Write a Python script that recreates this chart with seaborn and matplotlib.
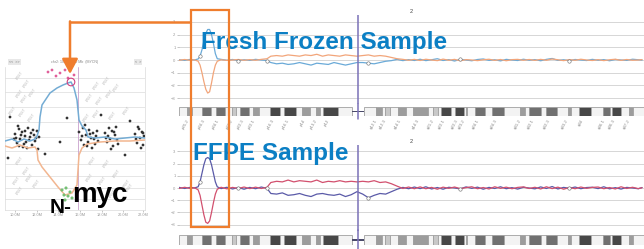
import numpy as np
import pandas as pd
import matplotlib
matplotlib.use("Agg")
import matplotlib.pyplot as plt
import seaborn as sns
from matplotlib import font_manager
from matplotlib.patches import Rectangle, FancyArrowPatch
from matplotlib.lines import Line2D

# --- genome profile data (chr2, Mb / log ratio) ---
pos_mb = [0, 3, 6, 8, 10, 11, 12, 13, 14, 15,
          16, 17, 18, 19, 20, 22, 25, 28, 31, 34,
          37, 40, 43, 46, 48, 51, 54, 57, 60, 63,
          66, 69, 72, 75, 78, 81, 84, 87, 90, 93,
          96, 99, 102, 105, 108, 111, 114, 117, 120, 123,
          126, 129, 132, 135, 138, 141, 144, 147, 150, 153,
          156, 159, 162, 165, 168, 171, 174, 177, 180, 183,
          186, 189, 192, 195, 198, 201, 204, 207, 210, 213,
          216, 219, 222, 225, 228, 231, 234, 237, 240, 242]

ff_blue = [0.02, -0.03, 0.05, 0.0, 0.08, 0.3, 0.8, 1.5, 2.1, 2.4,
           2.4, 2.0, 1.3, 0.5, 0.1, 0.05, -0.02, 0.04, -0.05, 0.02,
           -0.03, 0.05, 0.0, -0.04, -0.2, -0.3, -0.25, -0.35, -0.3, -0.2,
           -0.3, -0.4, -0.25, -0.3, -0.35, -0.2, -0.3, -0.4, -0.3, -0.2,
           -0.2, -0.25, -0.3, -0.2, -0.1, -0.05, 0.05, -0.05, 0.03, -0.04,
           0.06, -0.05, 0.02, 0.1, -0.04, 0.03, -0.08, 0.05, 0.0, -0.06,
           0.04, 0.08, -0.03, 0.02, -0.07, 0.05, 0.0, -0.04, 0.06, -0.02,
           0.03, -0.06, 0.05, 0.12, -0.03, 0.02, -0.05, 0.04, 0.0, -0.04,
           0.05, -0.02, 0.03, -0.06, 0.04, 0.0, -0.03, 0.06, 0.02, -0.01]

ff_orange = [-0.02, 0.04, -0.03, 0.02, -0.1, -0.4, -1.0, -1.7, -2.3, -2.6,
             -2.5, -1.8, -1.0, -0.4, -0.1, 0.02, -0.03, 0.0, 0.04, -0.02,
             0.03, -0.02, 0.05, 0.1, 0.3, 0.35, 0.3, 0.4, 0.35, 0.3,
             0.4, 0.35, 0.45, 0.3, 0.4, 0.35, 0.3, 0.4, 0.35, 0.3,
             0.35, 0.4, 0.3, 0.35, 0.3, 0.2, 0.1, 0.05, -0.02, 0.05,
             -0.04, 0.06, 0.0, -0.05, 0.07, -0.02, 0.05, -0.06, 0.03, 0.0,
             -0.05, 0.02, 0.06, -0.03, 0.04, -0.06, 0.03, 0.05, -0.02, 0.04,
             -0.03, 0.05, -0.02, 0.08, 0.02, -0.05, 0.03, -0.02, 0.06, 0.0,
             -0.04, 0.03, -0.05, 0.02, 0.06, -0.03, 0.04, -0.02, 0.0, 0.03]

ffpe_blue = [0.05, -0.04, 0.06, 0.0, 0.1, 0.5, 1.2, 1.9, 2.4, 2.5,
             2.4, 1.9, 1.2, 0.5, 0.1, -0.05, 0.06, -0.08, 0.04, -0.1,
             0.05, -0.06, 0.08, -0.03, -0.45, -0.5, -0.4, -0.6, -0.55, -0.45,
             -0.6, -0.7, -0.5, -0.45, -0.55, -0.6, -0.5, -0.7, -0.55, -0.3,
             -0.5, -0.8, -0.6, -0.45, -0.5, -0.3, -0.1, 0.05, -0.06, 0.08,
             -0.05, 0.1, -0.08, 0.04, -0.1, 0.06, 0.0, -0.07, 0.09, -0.03,
             0.07, -0.1, 0.05, -0.04, 0.1, -0.06, 0.03, -0.09, 0.06, 0.0,
             -0.07, 0.09, -0.04, 0.12, -0.08, 0.05, -0.03, 0.08, -0.06, 0.04,
             0.06, -0.05, 0.1, -0.07, 0.03, -0.09, 0.05, 0.0, -0.06, 0.04]

ffpe_red = [-0.04, 0.06, -0.05, 0.03, -0.15, -0.6, -1.4, -2.2, -2.8, -2.9,
            -2.7, -2.0, -1.2, -0.5, -0.1, 0.06, -0.07, 0.05, -0.04, 0.08,
            -0.05, 0.07, -0.04, 0.06, 0.45, 0.55, 0.5, 0.65, 0.5, 0.6,
            0.55, 0.5, 0.65, 0.45, 0.55, 0.5, 0.6, 0.5, 0.55, 0.5,
            0.55, 0.5, 0.6, 0.45, 0.5, 0.35, 0.15, -0.04, 0.08, -0.06,
            0.09, -0.06, 0.05, -0.1, 0.07, -0.03, 0.08, -0.05, 0.03, 0.1,
            -0.06, 0.04, -0.08, 0.1, -0.03, 0.07, -0.06, 0.05, 0.09, -0.04,
            0.06, -0.08, 0.1, -0.05, 0.07, -0.1, 0.04, -0.06, 0.08, -0.03,
            0.05, 0.08, -0.06, 0.04, -0.08, 0.1, -0.04, 0.06, -0.05, 0.02]

marker_idx = [5, 18, 23, 41, 57, 76]

# --- chr2 ideogram bands ---
band_name = ['p25.3', 'p25.2', 'p25.1', 'p24.3', 'p24.2', 'p24.1', 'p23.3', 'p23.2', 'p23.1', 'p22.3',
             'p22.2', 'p22.1', 'p21', 'p16.3', 'p16.2', 'p16.1', 'p15', 'p14', 'p13.3', 'p13.2',
             'p13.1', 'p12', 'p11.2', 'p11.1', 'q11.1', 'q11.2', 'q12.1', 'q12.2', 'q12.3', 'q13',
             'q14.1', 'q14.2', 'q14.3', 'q21.1', 'q21.2', 'q21.3', 'q22.1', 'q22.2', 'q22.3', 'q23.1',
             'q23.2', 'q23.3', 'q24.1', 'q24.2', 'q24.3', 'q31.1', 'q31.2', 'q31.3', 'q32.1', 'q32.2',
             'q32.3', 'q33.1', 'q33.2', 'q33.3', 'q34', 'q35', 'q36.1', 'q36.2', 'q36.3', 'q37.1',
             'q37.2', 'q37.3']
band_end = [4.4, 7.0, 12.2, 16.7, 19.2, 24.0, 27.9, 30.0, 32.1, 36.6,
            38.6, 41.8, 47.8, 52.9, 55.0, 61.3, 64.1, 68.6, 71.5, 73.5,
            75.0, 83.3, 90.5, 93.3, 96.8, 102.7, 106.0, 107.5, 110.2, 114.4,
            118.8, 122.4, 129.9, 132.5, 135.1, 136.8, 142.2, 144.1, 148.7, 149.9,
            150.5, 154.9, 159.8, 163.7, 169.7, 178.0, 180.6, 183.0, 189.4, 191.9,
            197.4, 203.3, 204.9, 209.0, 215.3, 221.5, 225.2, 226.1, 231.0, 235.1,
            237.3, 243.2]
band_stain = ['gneg', 'gpos50', 'gneg', 'gpos75', 'gneg', 'gpos75', 'gneg', 'gpos25', 'gneg', 'gpos75',
              'gneg', 'gpos50', 'gneg', 'gpos100', 'gneg', 'gpos100', 'gneg', 'gpos50', 'gneg', 'gpos50',
              'gneg', 'gpos100', 'gneg', 'acen', 'acen', 'gneg', 'gpos50', 'gneg', 'gpos25', 'gneg',
              'gpos50', 'gneg', 'gpos50', 'gneg', 'gpos25', 'gneg', 'gpos100', 'gneg', 'gpos100', 'gneg',
              'gpos25', 'gneg', 'gpos75', 'gneg', 'gpos75', 'gneg', 'gpos50', 'gneg', 'gpos75', 'gneg',
              'gpos75', 'gneg', 'gpos50', 'gneg', 'gpos100', 'gneg', 'gpos75', 'gneg', 'gpos100', 'gneg',
              'gpos50', 'gneg']
centromere_mb = 93.3

# --- left zoom panel data ---
blue_x = [0.0, 0.7, 1.3, 1.9, 2.5, 3.0, 3.2, 3.4, 3.5, 3.7,
          4.5, 5.2, 5.8, 6.3, 6.6, 6.9, 7.2, 7.3, 7.4, 7.7,
          8.1, 8.3, 9.0, 10.0, 11.0, 12.0, 13.0, 14.0]
blue_y = [-0.4, -0.2, -0.5, -0.2, -0.4, -0.2, 0.1, 0.7, 2.0, 3.2,
          4.4, 4.9, 5.2, 5.4, 5.5, 4.9, 3.7, 2.7, 1.7, 1.1,
          0.7, 0.0, -0.1, 0.0, -0.2, -0.1, 0.0, -0.1]
orange_x = [0.0, 0.7, 1.5, 2.3, 3.0, 3.2, 3.3, 3.7, 4.5, 5.3,
            6.0, 6.7, 7.2, 7.3, 7.4, 7.7, 8.2, 9.5, 11.0, 12.5, 14.0]
orange_y = [-0.9, -1.1, -0.8, -1.1, -1.0, -1.3, -2.3, -3.0, -4.0, -5.0,
            -5.8, -5.6, -4.8, -3.3, -1.8, -1.1, -0.7, -0.5, -0.4, -0.4, -0.3]

probe_x = [1.0, 1.2, 1.4, 1.5, 1.7, 1.8, 2.0, 2.1, 2.3, 2.4, 2.6, 2.7, 2.9, 3.0, 3.2, 3.3, 1.3, 2.2, 0.9, 3.4,
           1.1, 1.6, 1.9, 2.5, 2.8, 3.1, 1.4, 2.0,
           7.4, 7.6, 7.8, 7.9, 8.1, 8.3, 8.4, 8.6, 8.8, 9.0, 9.1, 9.3, 8.0, 8.7,
           7.7, 8.2, 8.5, 8.9, 9.2,
           10.0, 10.2, 10.4, 10.5, 10.7, 10.8, 11.0, 11.2, 10.3, 11.1, 10.6,
           10.1, 10.9, 11.3,
           13.0, 13.2, 13.4, 13.5, 13.7, 13.8, 13.9, 13.3, 13.6, 13.1, 13.8,
           0.5, 4.0, 6.2, 9.6, 12.0, 12.5, 0.3, 5.5]
probe_y = [0.3, -0.6, 0.8, -0.2, 0.5, -1.0, 0.1, -0.5, 0.9, -0.3, 0.4, -0.8, 0.2, -0.4, 0.6, -1.2, 1.1, -1.1, -0.2, 0.0,
           -0.1, 0.2, -0.7, 0.0, 0.7, -0.1, -0.9, 0.6,
           0.5, -0.3, 0.9, -0.8, 0.2, -0.5, 0.7, -0.1, 0.4, -0.7, 0.1, -0.4, 1.2, -1.1,
           0.1, -0.9, 0.3, -0.2, 0.6,
           0.4, -0.5, 0.9, -0.2, 0.6, -0.9, 0.2, -0.3, 0.1, 1.0, -1.2,
           -0.1, 0.5, -0.7,
           0.3, -0.6, 0.8, -0.1, 0.5, -0.8, 0.1, 1.0, -1.1, -0.2, 0.4,
           2.0, -1.7, 1.9, 2.2, -1.8, 1.6, -2.1, -0.5]
gain_x = [4.3, 4.7, 5.1, 5.5, 6.0, 6.3, 6.9]
gain_y = [6.5, 6.7, 6.1, 6.4, 6.7, 5.9, 6.2]
mycn_x, mycn_y = 6.6, 5.5
loss_x = [5.7, 5.9, 6.1, 6.3, 6.5, 6.7, 6.0]
loss_y = [-5.3, -5.8, -5.1, -5.9, -5.5, -6.1, -6.3]
gene_lab_x = [1.5, 2.2, 1.5, 2.0, 2.8, 0.8, 1.8, 2.7,
              9.2, 10.2, 8.5, 9.5, 10.5, 11.2, 9.2, 10.8, 12.2, 8.2,
              1.5, 2.2, 1.2, 2.5, 3.2, 1.5,
              8.8, 10.2, 8.5, 9.8, 11.2, 12.2, 9.2, 10.8, 12.5]
gene_lab_y = [6.2, 5.4, 4.4, 3.9, 4.5, 2.7, 2.5, 2.0,
              5.2, 5.7, 4.0, 3.7, 4.4, 5.0, 2.4, 2.2, 2.7, 2.0,
              -2.3, -3.3, -4.3, -4.0, -4.6, -5.3,
              -2.3, -2.6, -4.0, -4.3, -3.6, -4.6, -5.3, -5.6, -5.0]
left_ticks = [1.0, 3.2, 5.3, 7.5, 9.7, 11.8, 13.8]
left_tick_labels = ['10.0M', '12.0M', '14.0M', '16.0M', '18.0M', '20.0M', '22.0M']
left_grid = [5.9, 4.5, 3.0, 1.5, 0.0, -1.4, -2.7, -3.9, -5.1, -6.2]

W, H = 644, 249
ORANGE = '#ef7d2d'
LABEL_BLUE = '#0b7fc4'

sns.set_theme(style="white")
plt.rcParams['font.family'] = ['Liberation Sans', 'DejaVu Sans']
installed = {f.name for f in font_manager.fontManager.ttflist}
if 'Liberation Sans Narrow' in installed:
    label_font, label_size = 'Liberation Sans Narrow', 21
else:
    label_font, label_size = 'Liberation Sans', 17.5

fig = plt.figure(figsize=(W / 100, H / 100), dpi=100)


def px_axes(x0, y0, x1, y1):
    return fig.add_axes([x0 / W, 1 - y1 / H, (x1 - x0) / W, (y1 - y0) / H])


stain_color = {'gneg': '#f3f3f3', 'gpos25': '#c8c8c8', 'gpos50': '#9c9c9c',
               'gpos75': '#707070', 'gpos100': '#474747'}


def draw_ideogram(ax, line_lo, line_hi):
    starts = [0.0] + band_end[:-1]
    for s, e, st, nm in zip(starts, band_end, band_stain, band_name):
        if st == 'acen':
            ax.add_patch(Rectangle((s, 0.4), e - s, 0.2, fc='#4a4a6a', ec='none'))
            continue
        ax.add_patch(Rectangle((s, 0.0), e - s, 1.0, fc=stain_color[st], ec='#a0a0a0', lw=0.6))
        if st != 'gneg':
            ax.text((s + e) / 2, -0.3, nm, rotation=60, ha='right', va='top',
                    fontsize=3.2, color='#8a8a8a', clip_on=False)
    ax.axvline(centromere_mb, ymin=line_lo, ymax=line_hi, color='#7b72b8', lw=1.1, clip_on=False)
    ax.set_xlim(0, 243)
    ax.set_ylim(0, 1)
    ax.axis('off')


def draw_profile(ax, a, b, ca, cb):
    for g in range(-3, 4):
        ax.axhline(g, color='#d6d6d6', lw=0.7, zorder=0)
    df = pd.DataFrame({'pos': pos_mb * 2, 'value': a + b,
                       'series': ['a'] * len(pos_mb) + ['b'] * len(pos_mb)})
    sns.lineplot(data=df, x='pos', y='value', hue='series', palette=[ca, cb],
                 estimator=None, sort=False, legend=False, lw=0.9, ax=ax)
    sns.scatterplot(x=[pos_mb[i] for i in marker_idx], y=[a[i] for i in marker_idx],
                    marker='o', s=6, facecolor='white', edgecolor='#666666', lw=0.4, ax=ax, zorder=3)
    ax.axvline(centromere_mb, color='#7b72b8', lw=1.1)
    ax.set_xlim(0, 243)
    ax.set_ylim(-3.5, 3.5)
    ax.set_yticks(range(-3, 4))
    ax.set_xticks([])
    ax.set_xlabel('')
    ax.set_ylabel('')
    ax.tick_params(axis='y', left=True, length=1.5, width=0.4, labelsize=3,
                   colors='#999999', pad=1)
    for sp in ax.spines.values():
        sp.set_visible(False)
    ax.set_title('2', fontsize=4, pad=2, color='#444444')


# fresh frozen
ax_ff = px_axes(179, 15.5, 644, 104.5)
draw_profile(ax_ff, ff_blue, ff_orange, '#6aaad8', '#f2a57a')
ax_ff_ideo = px_axes(179, 107, 644, 116)
draw_ideogram(ax_ff_ideo, -0.3, 1.3)

# FFPE
ax_ffpe = px_axes(179, 145.3, 644, 230.7)
draw_profile(ax_ffpe, ffpe_blue, ffpe_red, '#5a5aa8', '#d2506e')
ax_ffpe_ideo = px_axes(179, 235, 644, 245)
draw_ideogram(ax_ffpe_ideo, -0.4, 1.5)

# left zoom panel
ax_l = px_axes(5, 67, 145, 210)
for g in left_grid:
    ax_l.axhline(g, color='#e2e2e2', lw=0.6, zorder=0)
ax_l.axvline(7.3, color='#c9a0cc', lw=0.6, zorder=1)
for gx, gy in zip(gene_lab_x, gene_lab_y):
    ax_l.text(gx, gy, 'ENST', rotation=55, fontsize=2.6, color='#b8b8b8',
              ha='center', va='center', style='italic')
sns.scatterplot(x=probe_x, y=probe_y, s=4, color='#333333', edgecolor='none', ax=ax_l, zorder=2)
sns.lineplot(x=orange_x, y=orange_y, sort=False, estimator=None, color='#f2b690', lw=1.1, ax=ax_l, zorder=3)
sns.lineplot(x=blue_x, y=blue_y, sort=False, estimator=None, color='#74acd4', lw=1.1, ax=ax_l, zorder=3)
sns.scatterplot(x=gain_x, y=gain_y, s=4, color='#e0609a', edgecolor='none', ax=ax_l, zorder=4)
sns.scatterplot(x=loss_x, y=loss_y, s=5, color='#74c074', edgecolor='none', ax=ax_l, zorder=4)
sns.scatterplot(x=[mycn_x], y=[mycn_y], s=30, facecolor='none', edgecolor='#d04080', lw=0.8,
                ax=ax_l, zorder=5)
ax_l.set_xlim(0, 14)
ax_l.set_ylim(-7.3, 7.0)
ax_l.set_yticks([])
ax_l.set_xticks(left_ticks)
ax_l.set_xticklabels(left_tick_labels)
ax_l.tick_params(axis='x', bottom=True, length=1.5, width=0.4, labelsize=2.8,
                 colors='#999999', pad=1)
for side, sp in ax_l.spines.items():
    sp.set_color('#dadada')
    sp.set_linewidth(0.5)
ax_l.spines['top'].set_visible(False)
ax_l.text(0.03, 1.035, '<<  >>', transform=ax_l.transAxes, fontsize=2.6, color='#777777',
          va='center', ha='left', bbox=dict(fc='#e8e8e8', ec='none', pad=0.6))
ax_l.text(0.97, 1.035, '<  >', transform=ax_l.transAxes, fontsize=2.6, color='#777777',
          va='center', ha='right', bbox=dict(fc='#e8e8e8', ec='none', pad=0.6))
ax_l.text(0.5, 1.035, 'chr2: 10.0 - 22.0 Mb  (MYCN)', transform=ax_l.transAxes, fontsize=2.6,
          color='#888888', va='center', ha='center')

# labels
fig.text(50 / W, 1 - 213 / H, 'N-', fontsize=15, fontweight='bold', color='black',
         ha='left', va='baseline', zorder=5)
fig.text(72 / W, 1 - 202 / H, 'myc', fontsize=20, fontweight='bold', color='black',
         ha='left', va='baseline', zorder=5)
fig.text(201 / W, 1 - 49 / H, 'Fresh Frozen Sample', fontsize=label_size, fontweight='bold',
         family=label_font, color=LABEL_BLUE, ha='left', va='baseline', zorder=5)
fig.text(193 / W, 1 - 160 / H, 'FFPE Sample', fontsize=label_size, fontweight='bold',
         family=label_font, color=LABEL_BLUE, ha='left', va='baseline', zorder=5)

# orange highlight box and arrow
fig.add_artist(Rectangle((191 / W, 1 - 227 / H), 38 / W, 217 / H, transform=fig.transFigure,
                         fill=False, ec=ORANGE, lw=1.6, zorder=6))
fig.add_artist(Line2D([69.4 / W, 191 / W], [1 - 22 / H, 1 - 22 / H], transform=fig.transFigure,
                      color=ORANGE, lw=1.8, solid_capstyle='butt', zorder=6))
fig.add_artist(FancyArrowPatch((70 / W, 1 - 21.4 / H), (70 / W, 1 - 74 / H), transform=fig.transFigure,
                               arrowstyle='-|>,head_length=0.45,head_width=0.24', mutation_scale=20,
                               color=ORANGE, lw=1.8, shrinkA=0, shrinkB=0, zorder=6))

fig.savefig('out.png', dpi=100)
